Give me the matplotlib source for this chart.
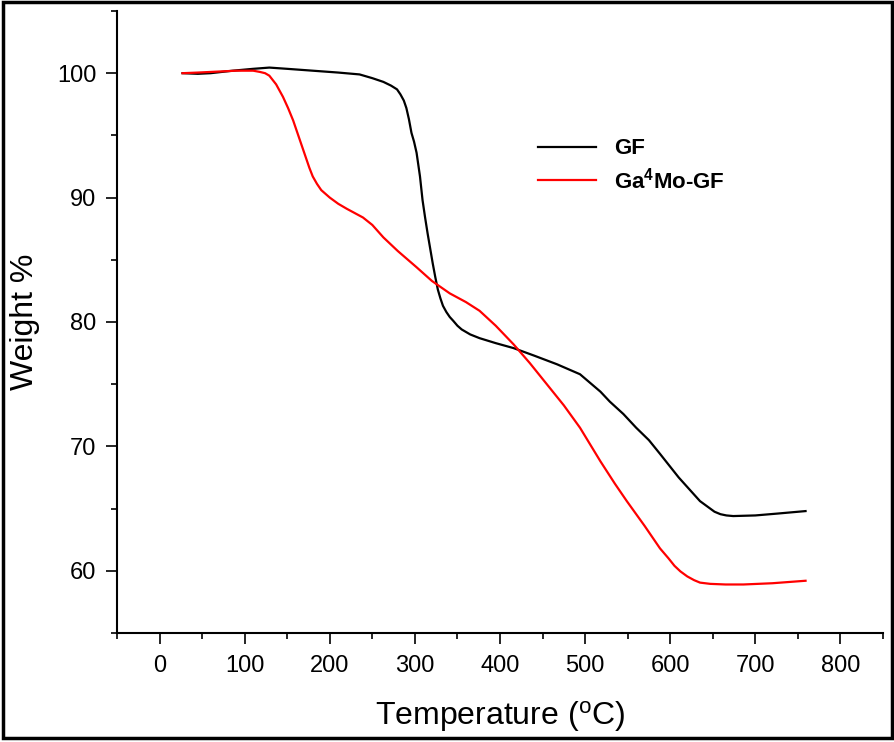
import matplotlib
matplotlib.use("Agg")
import matplotlib.pyplot as plt
from matplotlib.patches import Rectangle
from matplotlib.ticker import MultipleLocator

plt.rcParams['font.family'] = ['Liberation Sans', 'DejaVu Sans']

# GF series
gf_temp = [27, 45, 60, 86, 110, 129, 150, 180, 210, 235, 250, 263, 272, 279, 283, 287,
           290, 293, 296, 299, 302, 306, 309, 312, 315, 318, 321, 324, 327, 330, 333,
           337, 341, 345, 350, 355, 365, 376, 395, 416, 440, 467, 494, 518, 529, 545,
           560, 575, 588, 610, 635, 645, 652, 659, 666, 674, 700, 726, 759]
gf_weight = [100.0, 99.95, 100.0, 100.2, 100.35, 100.45, 100.35, 100.2, 100.05, 99.9, 99.6,
             99.3, 99.0, 98.7, 98.3, 97.8, 97.2, 96.3, 95.2, 94.5, 93.6, 91.7, 89.8, 88.4,
             87.1, 85.9, 84.7, 83.6, 82.6, 81.9, 81.3, 80.8, 80.4, 80.1, 79.7, 79.4, 79.0,
             78.7, 78.3, 77.9, 77.3, 76.6, 75.8, 74.4, 73.6, 72.6, 71.5, 70.5, 69.4, 67.5,
             65.6, 65.1, 64.75, 64.55, 64.45, 64.4, 64.45, 64.6, 64.8]

# Ga4Mo-GF series
red_temp = [27, 45, 60, 90, 110, 118, 124, 129, 137, 145, 151, 157, 163, 169, 172, 176,
            180, 185, 190, 195, 200, 210, 220, 239, 250, 263, 280, 302, 320, 341, 360,
            376, 395, 416, 435, 455, 475, 494, 518, 535, 549, 570, 588, 598, 605, 612,
            620, 628, 635, 647, 665, 686, 720, 759]
red_weight = [100.0, 100.05, 100.1, 100.2, 100.2, 100.1, 100.0, 99.8, 99.1, 98.1, 97.2,
              96.2, 95.0, 93.8, 93.2, 92.4, 91.7, 91.1, 90.6, 90.3, 90.0, 89.5, 89.1, 88.4,
              87.8, 86.8, 85.7, 84.4, 83.3, 82.3, 81.6, 80.9, 79.7, 78.2, 76.7, 75.0, 73.3,
              71.5, 68.8, 67.0, 65.6, 63.6, 61.8, 61.0, 60.4, 59.95, 59.55, 59.25, 59.05,
              58.95, 58.9, 58.9, 59.0, 59.2]

series_labels = ['GF', r'Ga$\mathregular{^4}$Mo-GF']
series_colors = ['#000000', '#ff0000']

x_major = list(range(0, 801, 100))
y_major = list(range(60, 101, 10))

fig = plt.figure(figsize=(8.95, 7.42), dpi=100)
ax = fig.add_axes([0.1307, 0.1469, 0.8559, 0.8383])

ax.plot(gf_temp, gf_weight, color=series_colors[0], lw=1.6, label=series_labels[0])
ax.plot(red_temp, red_weight, color=series_colors[1], lw=1.6, label=series_labels[1])

ax.set_xlim(-50, 850)
ax.set_ylim(55, 105)
ax.set_xticks(x_major)
ax.set_yticks(y_major)
ax.xaxis.set_minor_locator(MultipleLocator(50))
ax.yaxis.set_minor_locator(MultipleLocator(5))

for s in ['top', 'right']:
    ax.spines[s].set_visible(False)
for s in ['left', 'bottom']:
    ax.spines[s].set_linewidth(1.5)

ax.tick_params(which='major', direction='out', length=8, width=1.2, labelsize=17)
ax.tick_params(which='minor', direction='out', length=4, width=1.2)
ax.tick_params(axis='x', which='major', pad=8)
ax.tick_params(axis='y', which='major', pad=7)

ax.set_xlabel(r'Temperature ($\mathregular{^o}$C)', fontsize=23, labelpad=16)
ax.set_ylabel('Weight %', fontsize=23, labelpad=12)

leg = ax.legend(loc='upper left', bbox_to_anchor=(0.55, 0.795), frameon=False,
                prop={'weight': 'bold', 'size': 16}, handlelength=2.6,
                handletextpad=0.8, labelspacing=0.35, borderaxespad=0, borderpad=0)

fig.patches.append(Rectangle((0.003, 0.005), 0.994, 0.992, transform=fig.transFigure,
                             fill=False, edgecolor='black', linewidth=2.5))

fig.savefig('out.png', dpi=100)
